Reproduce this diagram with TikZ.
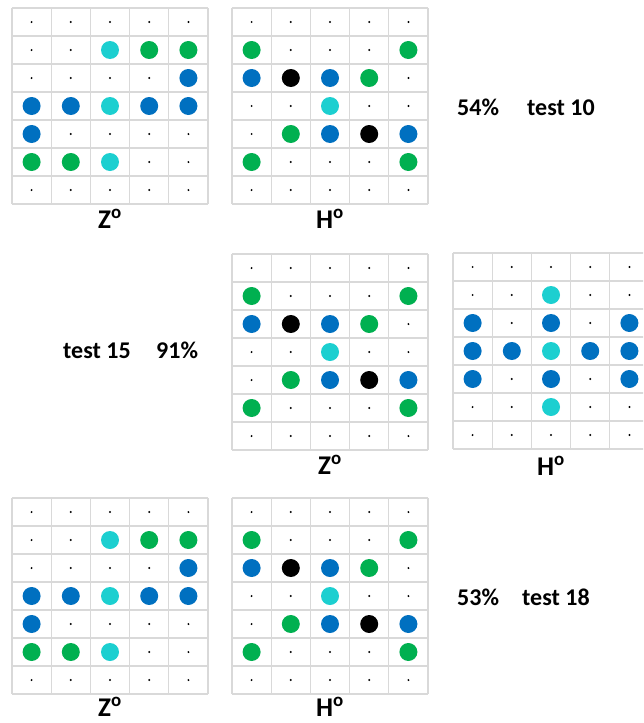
\documentclass[tikz,border=0pt]{standalone}
\usepackage{fontspec}
\setmainfont{Carlito}
\definecolor{cyanc}{HTML}{1CCFD0}
\definecolor{greenc}{HTML}{00B050}
\definecolor{bluec}{HTML}{0070C0}
\definecolor{gridc}{HTML}{D9D9D9}
\newcommand\dotgrid[3]{%
  \foreach \i in {0,...,5} \draw[gridline] ({#1+\i*39.2},#2) -- ({#1+\i*39.2},{#2+196});
  \foreach \j in {0,...,7} \draw[gridline] (#1,{#2+\j*28}) -- ({#1+196},{#2+\j*28});
  \foreach \c in {1,...,5} \foreach \r in {1,...,7} \fill ({#1+(\c-0.5)*39.2},{#2+(\r-0.5)*28}) circle (1.1pt);
  \foreach \c/\r/\k in {#3} \fill[\k] ({#1+(\c-0.5)*39.2},{#2+(\r-0.5)*28}) circle (9pt);
}
\tikzset{
  gridline/.style={draw=gridc, line width=1.3pt},
  lbl/.style={anchor=base, inner sep=0pt, font=\fontsize{27}{30}\selectfont\bfseries},
  txt/.style={anchor=base west, inner sep=0pt, font=\fontsize{24}{28}\selectfont\bfseries}
}
\begin{document}
\begin{tikzpicture}[x=1pt,y=-1pt]
\useasboundingbox (0,0) rectangle (643,723);
\fill[white] (0,0) rectangle (643,723);
\begin{scope}
\clip (0,0) rectangle (643,723);
% top Z
\dotgrid{12}{8}{3/2/cyanc,4/2/greenc,5/2/greenc,5/3/bluec,1/4/bluec,2/4/bluec,3/4/cyanc,4/4/bluec,5/4/bluec,1/5/bluec,1/6/greenc,2/6/greenc,3/6/cyanc}
% top H
\dotgrid{232}{8}{1/2/greenc,5/2/greenc,1/3/bluec,2/3/black,3/3/bluec,4/3/greenc,3/4/cyanc,2/5/greenc,3/5/bluec,4/5/black,5/5/bluec,1/6/greenc,5/6/greenc}
% middle Z
\dotgrid{232}{254}{1/2/greenc,5/2/greenc,1/3/bluec,2/3/black,3/3/bluec,4/3/greenc,3/4/cyanc,2/5/greenc,3/5/bluec,4/5/black,5/5/bluec,1/6/greenc,5/6/greenc}
% middle H
\dotgrid{453}{253}{3/2/cyanc,1/3/bluec,3/3/bluec,5/3/bluec,1/4/bluec,2/4/bluec,3/4/cyanc,4/4/bluec,5/4/bluec,1/5/bluec,3/5/bluec,5/5/bluec,3/6/cyanc}
% bottom Z
\dotgrid{12}{498}{3/2/cyanc,4/2/greenc,5/2/greenc,5/3/bluec,1/4/bluec,2/4/bluec,3/4/cyanc,4/4/bluec,5/4/bluec,1/5/bluec,1/6/greenc,2/6/greenc,3/6/cyanc}
% bottom H
\dotgrid{232}{498}{1/2/greenc,5/2/greenc,1/3/bluec,2/3/black,3/3/bluec,4/3/greenc,3/4/cyanc,2/5/greenc,3/5/bluec,4/5/black,5/5/bluec,1/6/greenc,5/6/greenc}
\end{scope}
% labels
\node[lbl] (z1) at (110,228) {Z\textsuperscript{o}};
\node[lbl] (h1) at (330,228) {H\textsuperscript{o}};
\node[lbl] (z2) at (330,474) {Z\textsuperscript{o}};
\node[lbl] (h2) at (551,475) {H\textsuperscript{o}};
\node[lbl] (z3) at (110,716) {Z\textsuperscript{o}};
\node[lbl] (h3) at (330,716) {H\textsuperscript{o}};
% texts
\node[txt] (p1) at (457,115) {54\%};
\node[txt] (t1) at (527,115) {test 10};
\node[txt] (t2) at (63,358) {test 15};
\node[txt] (p2) at (156,358) {91\%};
\node[txt] (p3) at (457,605) {53\%};
\node[txt] (t3) at (522,605) {test 18};
\end{tikzpicture}
\end{document}
